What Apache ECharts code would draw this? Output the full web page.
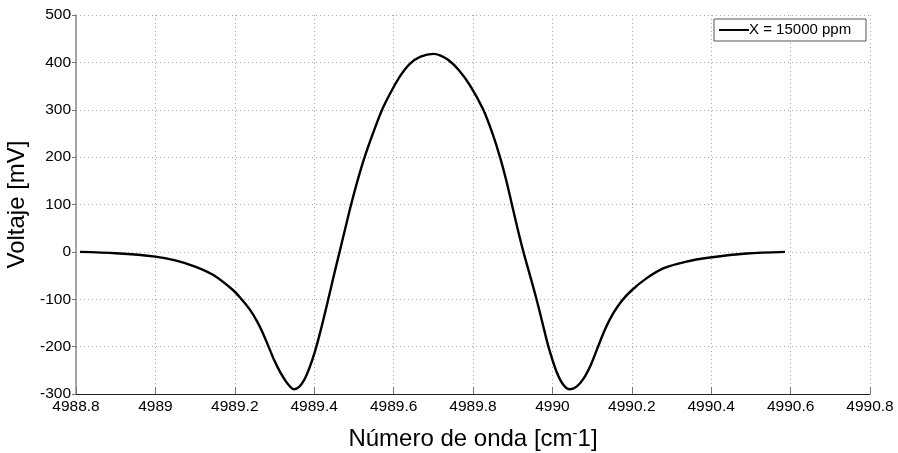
<!DOCTYPE html>
<html>
<head>
<meta charset="utf-8">
<script src="https://cdn.jsdelivr.net/npm/echarts@6/dist/echarts.min.js"></script>
<style>
  html, body { margin: 0; padding: 0; background: #fff; }
  #chart { width: 898px; height: 453px; }
</style>
</head>
<body>
<div id="chart"></div>
<script>
// Second-harmonic signal versus wavenumber
const wavenumbers = [
  4988.81, 4988.90, 4989.00, 4989.05, 4989.10, 4989.146, 4989.196, 4989.217,
  4989.238, 4989.255, 4989.270, 4989.285, 4989.300, 4989.315, 4989.330, 4989.340,
  4989.349, 4989.362, 4989.375, 4989.388, 4989.402, 4989.415, 4989.432, 4989.448,
  4989.464, 4989.479, 4989.493, 4989.509, 4989.527, 4989.548, 4989.571, 4989.595,
  4989.618, 4989.641, 4989.668, 4989.700, 4989.717, 4989.738, 4989.763, 4989.792,
  4989.826, 4989.849, 4989.868, 4989.884, 4989.898, 4989.912, 4989.927, 4989.943,
  4989.960, 4989.975, 4989.990, 4990.010, 4990.027, 4990.044, 4990.060, 4990.078,
  4990.097, 4990.115, 4990.133, 4990.153, 4990.175, 4990.200, 4990.235, 4990.279,
  4990.335, 4990.397, 4990.489, 4990.586
];
const voltage = [
  0, -3, -10, -18, -31, -49, -81, -100,
  -122, -145, -170, -200, -230, -255, -275, -285,
  -290, -285, -270, -245, -210, -170, -112, -55,
  0, 52, 100, 150, 200, 250, 300, 340,
  373, 397, 412, 418, 415, 405, 385, 352,
  300, 250, 200, 150, 100, 50, 0, -48,
  -100, -150, -200, -252, -280, -290, -285, -268,
  -238, -200, -163, -130, -103, -81, -57, -35,
  -21, -12, -3.5, 0
];
const seriesName = 'X = 15000 ppm';
const xTicks = { min: 4988.8, max: 4990.8, step: 0.2 };
const yTicks = { min: -300, max: 500, step: 100 };

const points = wavenumbers.map((w, i) => [w, voltage[i]]);

const chart = echarts.init(document.getElementById('chart'), null, { renderer: 'canvas' });
const font = 'Arial, "Liberation Sans", sans-serif';

chart.setOption({
  backgroundColor: '#fff',
  animation: false,
  grid: { left: 76, right: 28, top: 15, bottom: 59, containLabel: false, outerBoundsMode: 'none' },
  legend: {
    data: [{ name: seriesName, icon: 'rect' }],
    right: 32,
    top: 19,
    orient: 'vertical',
    itemWidth: 30,
    itemHeight: 2,
    itemGap: 0,
    padding: [2, 4, 2, 5],
    borderColor: '#555',
    borderWidth: 1,
    borderRadius: 0,
    backgroundColor: '#fff',
    textStyle: { fontFamily: font, fontSize: 15, color: '#000', padding: [0, 0, 0, -5], width: 113, height: 18, lineHeight: 18 },
    itemStyle: { color: '#000' }
  },
  xAxis: {
    type: 'value',
    min: xTicks.min,
    max: xTicks.max,
    interval: xTicks.step,
    name: 'Número de onda [cm{sup|-}1]',
    nameLocation: 'middle',
    nameGap: 32,
    nameTextStyle: {
      fontFamily: font, fontSize: 24, color: '#000',
      rich: { sup: { fontFamily: font, fontSize: 15, color: '#000', padding: [0, 0, 12, 0] } }
    },
    axisLine: { show: true, onZero: false, lineStyle: { color: '#222', width: 1 } },
    axisTick: { show: true, inside: true, length: 7, lineStyle: { color: '#777' } },
    axisLabel: {
      fontFamily: font, fontSize: 15.5, color: '#000', margin: 5,
      formatter: v => String(+v.toFixed(1))
    },
    splitLine: { show: true, lineStyle: { color: '#aaa', type: [1, 3], width: 1 } }
  },
  yAxis: {
    type: 'value',
    min: yTicks.min,
    max: yTicks.max,
    interval: yTicks.step,
    name: 'Voltaje [mV]',
    nameLocation: 'middle',
    nameGap: 39,
    nameTextStyle: { fontFamily: font, fontSize: 24, color: '#000' },
    axisLine: { show: true, lineStyle: { color: '#888', width: 1.5 } },
    axisTick: { show: true, inside: false, length: 4, lineStyle: { color: '#777' } },
    axisLabel: { fontFamily: font, fontSize: 15.5, color: '#000', margin: 5 },
    splitLine: { show: true, lineStyle: { color: '#aaa', type: [1, 3], width: 1 } }
  },
  series: [{
    name: seriesName,
    type: 'line',
    data: points,
    smooth: 0.3,
    showSymbol: false,
    symbol: 'none',
    lineStyle: { color: '#000', width: 2.4 },
    itemStyle: { color: '#000' }
  }]
});
</script>
</body>
</html>
